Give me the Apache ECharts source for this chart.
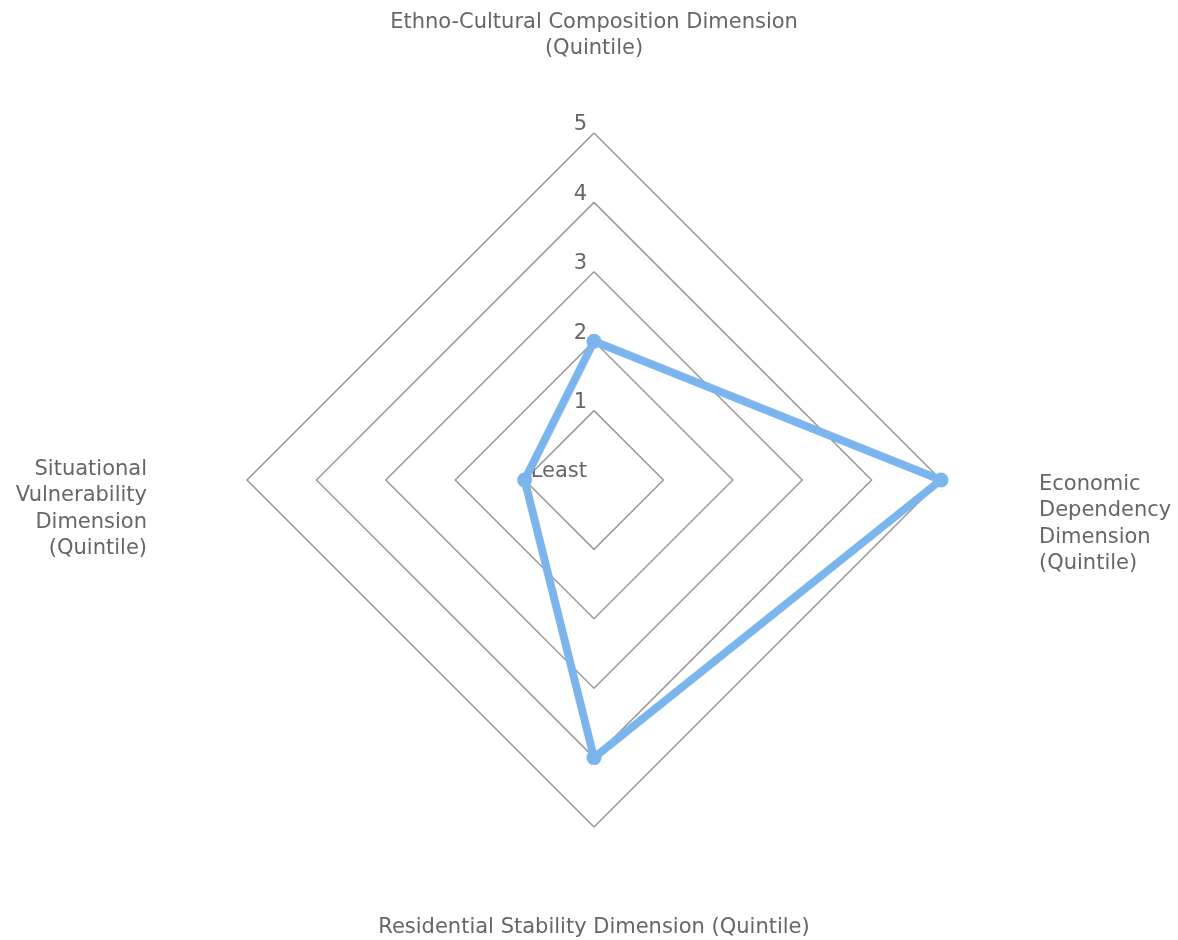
<!DOCTYPE html>
<html>
<head>
<meta charset="utf-8">
<script src="https://cdn.jsdelivr.net/npm/echarts@6/dist/echarts.min.js"></script>
<style>
html,body{margin:0;padding:0;background:#fff;}
#chart{width:1178px;height:940px;}
</style>
</head>
<body>
<div id="chart"></div>
<script>
// Dimensions in clockwise visual order: top, right, bottom, left
const categories = [
  'Ethno-Cultural Composition Dimension\n(Quintile)',
  'Economic\nDependency\nDimension\n(Quintile)',
  'Residential Stability Dimension (Quintile)',
  'Situational\nVulnerability\nDimension\n(Quintile)'
];
const values = [2, 5, 4, 1];
const tickLabels = ['Least', '1', '2', '3', '4', '5'];
const axisMax = 5;

// ECharts lays indicators counter-clockwise from top: top, left, bottom, right
const order = [0, 3, 2, 1];
const nameGaps = [71, 98, 87, 100];
const nameStyles = [
  {},
  { verticalAlign: 'top', padding: [-9, 0, 0, 0] },
  {},
  { verticalAlign: 'top', padding: [-24, 0, 0, 0] }
];

const indicator = order.map((i, k) => ({
  name: categories[i],
  max: axisMax,
  min: 0,
  nameGap: nameGaps[i],
  nameTextStyle: nameStyles[i],
  axisLabel: { show: k === 0 }
}));
const seriesData = order.map(i => values[i]);

const chart = echarts.init(document.getElementById('chart'));
chart.setOption({
  animation: false,
  textStyle: { fontFamily: 'DejaVu Sans' },
  radar: {
    center: [594, 480],
    radius: 347,
    startAngle: 90,
    shape: 'polygon',
    splitNumber: 5,
    indicator: indicator,
    axisName: {
      color: '#666666',
      fontSize: 21,
      lineHeight: 26.5,
      fontFamily: 'DejaVu Sans'
    },
    axisLine: { show: false },
    axisTick: { show: false },
    splitArea: { show: false },
    splitLine: { lineStyle: { color: '#999999', width: 1.5 } },
    axisLabel: {
      show: true,
      color: '#666666',
      fontSize: 21,
      lineHeight: 16,
      verticalAlign: 'bottom',
      margin: 7,
      fontFamily: 'DejaVu Sans',
      formatter: function (v) { return tickLabels[Math.round(v)]; }
    }
  },
  series: [{
    type: 'radar',
    symbol: 'circle',
    symbolSize: 15,
    lineStyle: { color: '#7cb5ec', width: 8 },
    itemStyle: { color: '#7cb5ec' },
    data: [{ value: seriesData }]
  }]
});
</script>
</body>
</html>
